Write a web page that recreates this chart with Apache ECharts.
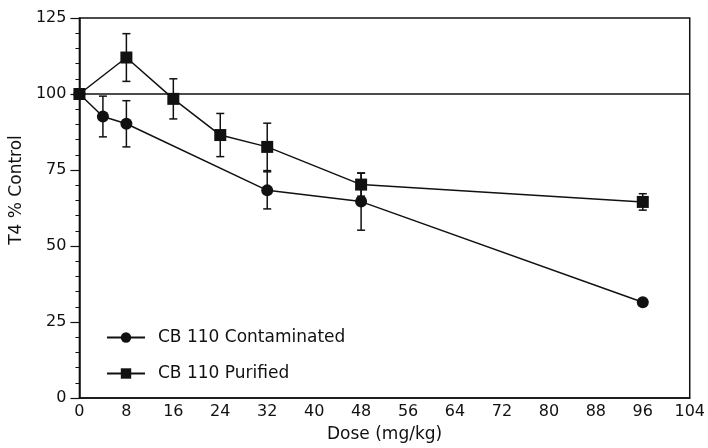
<!DOCTYPE html>
<html><head><meta charset="utf-8">
<script src="https://cdn.jsdelivr.net/npm/echarts@6/dist/echarts.min.js"></script>
<style>html,body{margin:0;padding:0;background:#fff}#c{width:708px;height:448px}</style>
</head><body><div id="c"></div>
<script>
const contaminatedDose = [0, 4, 8, 32, 48, 96];
const contaminatedMean = [100, 92.6, 90.2, 68.3, 64.6, 31.5];
const contaminatedErr  = [0, 6.7, 7.6, 6.1, 9.4, 0];
const purifiedDose = [0, 8, 16, 24, 32, 48, 96];
const purifiedMean = [100, 112.0, 98.4, 86.5, 82.6, 70.2, 64.5];
const purifiedErr  = [0, 7.85, 6.6, 7.1, 7.8, 3.8, 2.7];
const seriesNames = ['CB 110 Contaminated', 'CB 110 Purified'];
const xTicks = {min: 0, max: 104, interval: 8};
const yTicks = {min: 0, max: 125, interval: 25};
const referenceLevel = 100;

const FONT = 'DejaVu Sans';
const INK = '#111';

function pts(xs, ys) { return xs.map((x, i) => [x, ys[i]]); }
function errs(xs, ys, es) { return xs.map((x, i) => [x, ys[i] - es[i], ys[i] + es[i]]).filter((d, i) => es[i] > 0); }

function errRender(params, api) {
  const x = api.value(0);
  const lo = api.coord([x, api.value(1)]);
  const hi = api.coord([x, api.value(2)]);
  const cap = 4;
  const st = {stroke: INK, lineWidth: 1.5};
  return {type: 'group', children: [
    {type: 'line', shape: {x1: lo[0], y1: lo[1], x2: hi[0], y2: hi[1]}, style: st},
    {type: 'line', shape: {x1: lo[0] - cap, y1: lo[1], x2: lo[0] + cap, y2: lo[1]}, style: st},
    {type: 'line', shape: {x1: hi[0] - cap, y1: hi[1], x2: hi[0] + cap, y2: hi[1]}, style: st}
  ]};
}

const chart = echarts.init(document.getElementById('c'), null, {renderer: 'canvas'});
chart.setOption({
  animation: false,
  backgroundColor: '#fff',
  textStyle: {fontFamily: FONT, color: INK},
  grid: {left: 78, right: 15, top: 18, bottom: 50, show: true, borderColor: INK, borderWidth: 1.5, containLabel: false},
  legend: {
    data: seriesNames, orient: 'vertical', left: 101, top: 324,
    itemWidth: 38, itemHeight: 13, itemGap: 19,
    textStyle: {fontFamily: FONT, fontSize: 17, color: INK, padding: [0, 0, 0, 8]}
  },
  xAxis: {
    type: 'value', min: xTicks.min, max: xTicks.max, interval: xTicks.interval,
    name: 'Dose (mg/kg)', nameLocation: 'middle', nameGap: 28,
    nameTextStyle: {fontFamily: FONT, fontSize: 17, color: INK},
    axisLine: {show: true, lineStyle: {color: INK, width: 1.5}},
    axisTick: {show: false},
    axisLabel: {fontFamily: FONT, fontSize: 16, color: INK, margin: 6},
    splitLine: {show: false}
  },
  yAxis: {
    type: 'value', min: yTicks.min, max: yTicks.max, interval: yTicks.interval,
    name: 'T4 % Control', nameLocation: 'middle', nameGap: 52,
    nameTextStyle: {fontFamily: FONT, fontSize: 17, color: INK, padding: [0, 0, 0, 36]},
    axisLine: {show: true, lineStyle: {color: INK, width: 1.5}},
    axisTick: {show: true, inside: false, length: 9, lineStyle: {color: INK, width: 1.2}},
    minorTick: {show: true, splitNumber: 5, length: 4, lineStyle: {color: INK, width: 1}},
    axisLabel: {fontFamily: FONT, fontSize: 16, color: INK, margin: 13},
    splitLine: {show: false}
  },
  series: [
    {type: 'custom', name: 'errC', renderItem: errRender, data: errs(contaminatedDose, contaminatedMean, contaminatedErr), z: 1, encode: {x: 0, y: [1, 2]}},
    {type: 'custom', name: 'errP', renderItem: errRender, data: errs(purifiedDose, purifiedMean, purifiedErr), z: 1, encode: {x: 0, y: [1, 2]}},
    {
      type: 'line', name: seriesNames[0], data: pts(contaminatedDose, contaminatedMean),
      symbol: 'circle', symbolSize: 12, z: 3,
      lineStyle: {color: INK, width: 1.5}, itemStyle: {color: INK},
      markLine: {silent: true, symbol: 'none', label: {show: false},
        lineStyle: {color: INK, width: 1.5, type: 'solid'}, data: [{yAxis: referenceLevel}]}
    },
    {
      type: 'line', name: seriesNames[1], data: pts(purifiedDose, purifiedMean),
      symbol: 'rect', symbolSize: 12, z: 3,
      lineStyle: {color: INK, width: 1.5}, itemStyle: {color: INK}
    }
  ]
});
</script></body></html>
